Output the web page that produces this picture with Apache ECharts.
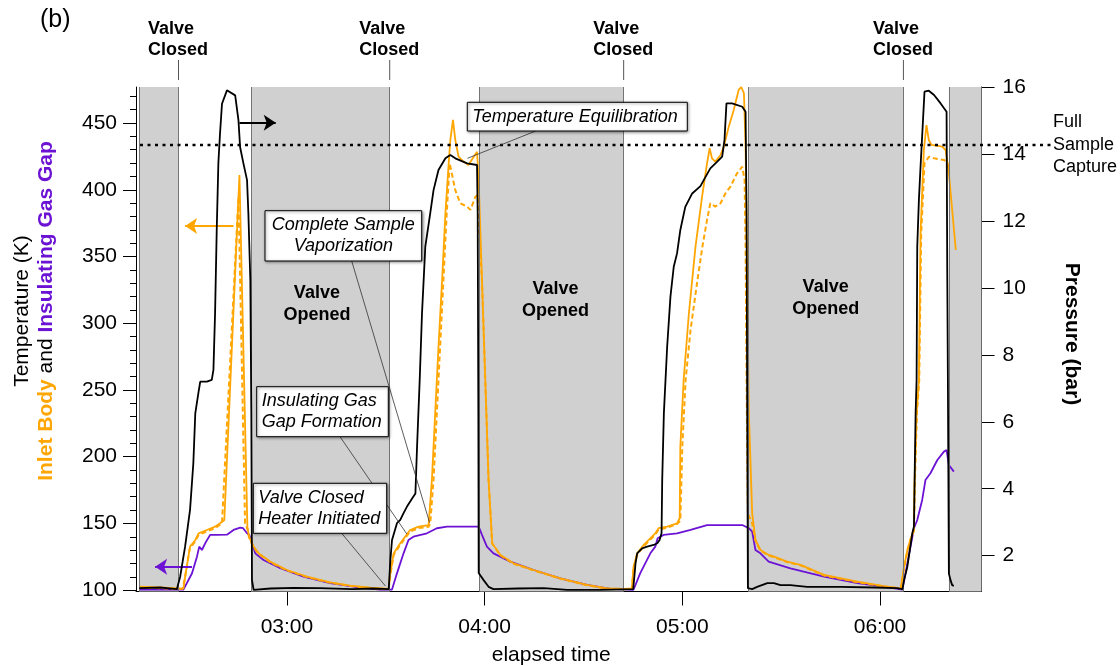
<!DOCTYPE html>
<html><head><meta charset="utf-8">
<script src="https://cdn.jsdelivr.net/npm/echarts@6/dist/echarts.min.js"></script>
<style>html,body{margin:0;padding:0;background:#fff}#c{width:1120px;height:666px}</style>
</head><body><div id="c"></div>
<script>
const FONT = '"Liberation Sans", Arial, Helvetica, sans-serif';
const ORANGE = '#ffa602';
const PURPLE = '#6c12d4';

// elapsed time in seconds (03:00 = 180 s)
const xTickValues = [180, 240, 300, 360];
const xTickLabels = ['03:00', '04:00', '05:00', '06:00'];
const tempTicks = [100, 150, 200, 250, 300, 350, 400, 450];
const tempMinorTicks = [110,120,130,140,160,170,180,190,210,220,230,240,260,270,280,290,310,320,330,340,360,370,380,390,410,420,430,440,460,470];
const pressureTicks = [2, 4, 6, 8, 10, 12, 14, 16];

// valve-open (shaded) periods and valve-closing times (s)
const valveOpenPeriods = [[135.1,147.1],[169.1,211.2],[238.5,282.2],[320.0,367.1],[380.9,390.8]];
const valveClosedTimes = [147.1, 211.2, 282.2, 367.1];
const valveOpenedLabelTimes = [189.1, 261.5, 343.5];
const fullSampleCapture = 433.6; // K (left-axis level of dotted line)

// Pressure (bar), right axis
const pressure = [
[135.2,1.03],[141.5,1.05],[146.6,1.0],[147.6,1.37],[149.1,2.27],[150.6,3.37],[151.6,4.76],[152.2,6.26],[153.2,6.9],[153.7,7.2],[155.7,7.2],[157.2,7.25],[157.7,7.55],[158.2,9.25],[158.7,11.73],[159.2,13.73],[159.7,14.61],[160.3,15.5],[161.8,15.9],[164.3,15.75],[165.3,15.0],[165.8,14.2],[166.8,13.72],[167.9,13.22],[168.3,12.24],[168.9,10.23],[169.2,6.26],[169.4,1.27],[169.9,0.98],[175,1.02],[182,1.04],[190,1.03],[200,1.0],[206,1.02],[210.9,1.0],
[211.4,1.87],[211.9,2.47],[213.4,2.97],[214.4,3.07],[215.4,3.27],[216.4,3.46],[218.0,3.71],[219.0,3.86],[219.5,5.26],[220.3,7.25],[221.0,9.24],[222.0,11.23],[223.5,12.23],[224.5,12.92],[226.0,13.52],[228.1,13.87],[229.6,13.97],[231.1,13.87],[234.7,13.72],[237.7,13.67],[237.9,12.24],[238.1,6.26],[238.2,1.48],[239.7,1.27],[241.2,1.07],[242.7,1.0],[250,1.02],[258,1.03],[265,0.98],[275,0.98],[285.1,1.0],
[285.8,1.77],[286.3,2.07],[287.8,2.22],[289.3,2.27],[291.3,2.32],[292.4,2.37],[293.1,2.47],[293.7,2.67],[293.9,4.26],[294.4,6.25],[295.4,8.24],[296.4,9.74],[297.4,10.63],[298.4,11.03],[299.4,11.73],[300.9,12.42],[303.0,12.82],[305.5,13.04],[306.5,13.22],[308.5,13.57],[310.6,13.77],[312.1,13.92],[312.8,14.42],[313.4,15.51],[315.1,15.51],[318.2,15.41],[319.2,15.26],[319.5,12.24],[319.7,6.25],[319.9,1.03],[321.2,1.0],[322.7,1.07],[325.8,1.18],[327.8,1.18],[329.8,1.12],[332.8,1.12],[337.9,1.07],[348.0,1.07],[358.1,1.05],[365.2,1.03],[366.8,1.0],
[367.3,1.27],[368.3,1.67],[369.8,2.67],[370.3,2.87],[370.5,4.26],[370.8,6.25],[371.1,7.25],[371.3,11.23],[371.8,12.62],[372.3,13.62],[373.1,15.11],[373.5,15.86],[374.8,15.89],[376.4,15.76],[378.4,15.51],[380.2,15.26],[380.4,10.63],[380.6,7.25],[380.9,1.47],[381.4,1.27],[381.9,1.12],[382.4,1.1]
];

// Inlet body temperature (K), solid thermocouple
const inletSolid = [
[135.2,102.6],[141.5,102.0],[147.1,101.4],[148.6,101.4],[149.6,117.6],[150.6,132.6],[152.2,137.6],[153.2,142.6],[155.7,145.1],[158.2,147.6],[159.7,150.1],[161.0,152.6],[165.6,411.1],[168.0,147.6],[168.3,146.4],[168.5,140.1],[169.9,132.6],[171.4,127.6],[174.9,121.4],[180.0,115.1],[186.1,110.1],[193.1,105.9],[199.2,103.4],[205.3,101.8],[210.9,100.9],
[211.4,112.6],[212.4,127.6],[214.4,135.1],[217.4,145.1],[220.0,147.6],[223.0,148.8],[223.5,150.1],[224.0,182.6],[225.0,232.5],[226.0,282.4],[227.1,332.4],[228.1,382.4],[229.1,419.8],[229.6,437.3],[230.4,452.3],[231.1,437.3],[232.1,424.8],[233.6,421.1],[235.1,418.6],[236.7,424.8],[237.7,428.5],[238.2,407.3],[239.2,332.4],[240.2,257.5],[241.2,182.6],[242.3,135.1],[244.8,126.4],[248.8,120.1],[254.9,115.1],[263.0,108.9],[271.1,103.9],[277.2,101.4],[282.2,100.9],[284.7,101.4],
[285.2,117.6],[286.3,127.6],[288.3,133.9],[291.8,142.6],[292.8,146.4],[295.4,147.6],[298.4,150.1],[299.2,153.9],[299.4,207.5],[300.4,257.5],[302.0,307.5],[304.0,357.4],[306.0,394.8],[307.5,419.8],[308.3,431.1],[309.0,423.6],[310.0,421.1],[311.6,426.1],[312.6,432.3],[314.1,447.3],[315.6,459.8],[317.1,474.8],[317.9,477],[318.7,472.3],[319.2,432.3],[319.7,332.4],[320.2,232.5],[321.2,157.6],[322.2,137.6],[323.7,130.1],[326.2,126.4],[327.8,125.1],[331.8,121.4],[335.9,118.9],[343.0,111.4],[353.1,106.4],[361.2,103.1],[366.3,101.4],[366.8,100.7],
[367.3,117.6],[368.3,130.1],[369.3,138.9],[370.3,145.1],[370.5,182.6],[371.1,232.5],[371.8,257.5],[372.3,367.4],[373.3,429.8],[374.1,448.5],[374.8,437.3],[375.6,433.6],[378.9,432.3],[379.9,429.8],[380.9,412.3],[383.0,354.9]
];

// Inlet body temperature (K), dashed thermocouple
const inletDashed = [
[135.2,101.8],[141.5,101.5],[147.1,100.8],[148.4,101.0],[149.5,116],[150.5,131],[152.2,136.5],[153.2,141.5],[155.7,144],[158.2,146.5],[160.3,150.1],[165.3,394.8],[167.3,150.1],[168.0,146],[168.5,139.5],[169.9,132],[171.4,127.2],[174.9,121],[180.0,114.8],[186.1,109.8],[193.1,105.6],[199.2,103.2],[205.3,101.6],[210.9,100.7],
[211.4,111.5],[212.4,126.5],[214.4,134],[217.4,144],[220.0,146.5],[223.0,147.5],[223.5,150],[224.5,182.6],[225.5,232.7],[226.5,282.4],[227.5,332.4],[228.5,382.4],[229.4,419.8],[231.1,399.7],[232.6,389.9],[234.7,387.4],[235.7,384.9],[237.2,394.8],[237.9,396.1],[238.3,370],[239.2,332.4],[240.2,257.5],[241.2,182.6],[242.3,135],[244.8,126],[248.8,119.8],[254.9,114.8],[263.0,108.6],[271.1,103.6],[277.2,101.2],[282.2,100.7],[284.7,101.2],
[285.2,116.5],[286.3,126.5],[288.3,133],[291.8,141.5],[292.8,145.5],[295.4,146.8],[298.4,149.5],[299.4,152],[300.0,207.5],[301.0,257.5],[302.5,295],[304.6,332.4],[306.1,357.4],[307.5,377.4],[308.5,389.9],[310.0,387.4],[311.6,389.9],[313.1,397.4],[314.6,402.3],[316.6,412.3],[318.2,417.3],[318.9,407.3],[319.2,357.4],[319.5,257.5],[319.9,157.6],[321.2,150],[322.2,137],[323.7,129.6],[326.2,126],[327.8,124.7],[331.8,121],[335.9,118.6],[343.0,111],[353.1,106],[361.2,102.8],[366.3,101.2],[366.8,100.5],
[367.3,116.5],[368.3,129],[369.3,138],[370.3,144.5],[370.6,182.6],[371.2,232.5],[371.9,257.5],[372.5,367.4],[373.5,420],[374.9,424.8],[376.4,423.6],[379.5,422.3],[380.5,419.8],[381.0,412.3]
];

// Insulating gas gap temperature (K)
const gasGap = [
[135.2,100.5],[148.6,100.4],[149.1,100.9],[151.2,112.7],[152.7,125.1],[153.4,132.6],[154.2,130.1],[155.2,135.1],[156.7,141.4],[158.7,141.4],[161.8,141.6],[163.8,145.1],[165.8,146.8],[166.7,146.4],[167.9,142.6],[168.6,141.4],[169.4,135.1],[170.4,127.6],[172.9,122.6],[178.0,116.4],[185.0,110.1],[193.1,105.2],[201.3,102.2],[208.3,100.4],[211.9,100.5],
[213.4,112.6],[215.4,127.6],[216.9,137.6],[217.4,138.9],[218.4,140.1],[222.5,142.6],[225.5,146.4],[228.6,147.6],[232.6,147.6],[238.2,147.6],[239.2,141.4],[240.7,132.6],[242.7,127.6],[247.8,121.4],[254.9,115.1],[263.0,108.9],[271.1,103.9],[278.2,101.0],[285.2,100.3],
[287.2,112.6],[290.3,127.6],[291.8,132.6],[292.5,138.9],[294.3,141.4],[298.4,142.6],[302.5,145.1],[307.5,148.8],[313.6,148.8],[318.2,148.8],[320.2,146.4],[321.2,143.8],[322.2,130.1],[323.7,127.6],[326.2,121.4],[332.8,116.4],[343.0,110.1],[353.1,105.2],[361.2,102.6],[366.8,100.4],
[370.3,146.4],[371.3,152.6],[372.8,167.6],[373.8,182.6],[375.3,187.6],[377.4,197.5],[379.4,203.8],[380.2,205],[380.9,193.8],[382.4,188.8]
];

// axis-direction arrows [start, end] in data units
const pressureArrow = [[165.6,14.93],[176.6,14.93]];
const inletArrow = [[163.8,372.9],[149.1,372.9]];
const gasGapArrow = [[151.2,117.6],[140.0,117.6]];

// annotation pointer targets
const annotTargets = {
  equil: [234.8, 13.87],   // pressure axis
  vapor: [223.3, 150.6],
  gap:   [216.4, 142.1],
  heater:[209.9, 103.1]
};

const chart = echarts.init(document.getElementById('c'), null, {renderer: 'canvas'});

function arrowMark(pair, color) {
  return {
    silent: true, animation: false,
    symbol: ['none', 'arrow'], symbolSize: 12,
    label: {show: false},
    lineStyle: {color: color, width: 2, type: 'solid'},
    itemStyle: {color: color},
    emphasis: {disabled: true},
    data: [[{coord: pair[0], symbol: 'none'}, {coord: pair[1], symbol: 'arrow', symbolSize: 12}]]
  };
}

const edges = [];
valveOpenPeriods.forEach(p => { edges.push(p[0]); if (p[1] < 390) edges.push(p[1]); });

const option = {
  animation: false,
  backgroundColor: '#fff',
  grid: {left: 136, right: 138.5, top: 87, bottom: 74.5, containLabel: false, outerBoundsMode: 'none'},
  xAxis: {
    type: 'value', min: 134.2, max: 390.8,
    axisLine: {show: true, onZero: false, lineStyle: {color: '#000', width: 1}},
    axisTick: {show: true, customValues: xTickValues, length: 14, lineStyle: {color: '#000', width: 1}},
    axisLabel: {customValues: xTickValues, formatter: v => xTickLabels[xTickValues.indexOf(v)] || '', fontSize: 21, fontFamily: FONT, color: '#000', margin: 25},
    splitLine: {show: false},
    name: 'elapsed time', nameLocation: 'middle', nameGap: 53,
    nameTextStyle: {fontSize: 21, fontFamily: FONT, color: '#000', padding: [0, 15, 0, 0]}
  },
  yAxis: [
    {
      type: 'value', min: 99, max: 477, position: 'left',
      axisLine: {show: true, lineStyle: {color: '#000', width: 1}},
      axisTick: {show: true, customValues: tempTicks, length: 13, lineStyle: {color: '#000', width: 1}},
      axisLabel: {customValues: tempTicks, fontSize: 21, fontFamily: FONT, color: '#000', margin: 19},
      splitLine: {show: false}
    },
    {
      type: 'value', min: 0.93, max: 16, position: 'right',
      axisLine: {show: true, lineStyle: {color: '#000', width: 1}},
      axisTick: {show: true, customValues: pressureTicks, length: 13, lineStyle: {color: '#000', width: 1}},
      axisLabel: {customValues: pressureTicks, fontSize: 21, fontFamily: FONT, color: '#000', margin: 21},
      splitLine: {show: false}
    },
    {
      type: 'value', min: 99, max: 477, position: 'left',
      axisLine: {show: false},
      axisTick: {show: true, customValues: tempMinorTicks, length: 6, lineStyle: {color: '#000', width: 1}},
      axisLabel: {show: false},
      splitLine: {show: false}
    }
  ],
  series: [
    {
      type: 'line', data: [], xAxisIndex: 0, yAxisIndex: 0, z: 1, silent: true,
      markArea: {silent: true, animation: false, itemStyle: {color: '#d0d0d0'},
        data: valveOpenPeriods.map(p => [{xAxis: p[0]}, {xAxis: p[1]}])},
      markLine: {silent: true, animation: false, symbol: 'none', label: {show: false},
        lineStyle: {color: '#747474', width: 1, type: 'solid'}, emphasis: {disabled: true},
        data: edges.map(v => ({xAxis: v}))}
    },
    {
      name: 'Insulating Gas Gap', type: 'line', data: gasGap, yAxisIndex: 0, z: 2,
      showSymbol: false, symbol: 'none', lineStyle: {color: PURPLE, width: 1.8}, itemStyle: {color: PURPLE},
      markLine: arrowMark(gasGapArrow, PURPLE)
    },
    {
      name: 'Inlet Body (2)', type: 'line', data: inletDashed, yAxisIndex: 0, z: 3,
      showSymbol: false, symbol: 'none', lineStyle: {color: ORANGE, width: 2, type: [5, 3]}, itemStyle: {color: ORANGE}
    },
    {
      name: 'Inlet Body', type: 'line', data: inletSolid, yAxisIndex: 0, z: 4,
      showSymbol: false, symbol: 'none', lineStyle: {color: ORANGE, width: 1.8}, itemStyle: {color: ORANGE},
      markLine: arrowMark(inletArrow, ORANGE)
    },
    {
      name: 'Pressure', type: 'line', data: pressure, yAxisIndex: 1, z: 5,
      showSymbol: false, symbol: 'none', lineStyle: {color: '#000', width: 1.8}, itemStyle: {color: '#000'},
      markLine: arrowMark(pressureArrow, '#000')
    }
  ]
};
chart.setOption(option);

// ---------- annotations (placed via the chart's own scales) ----------
const T = (s, v) => chart.convertToPixel({seriesIndex: 1}, [s, v]);
const P = (s, v) => chart.convertToPixel({seriesIndex: 4}, [s, v]);
const X = s => chart.convertToPixel({xAxisIndex: 0}, s);
const g = [];

g.push({type: 'text', x: 40, y: 8, style: {text: '(b)', font: '25px ' + FONT, fill: '#000'}});

valveClosedTimes.forEach(t => {
  const x = X(t);
  g.push({type: 'line', shape: {x1: x, y1: 60, x2: x, y2: 80}, style: {stroke: '#555', lineWidth: 1}});
  g.push({type: 'text', x: x - 30.5, y: 19, style: {text: 'Valve\nClosed', font: 'bold 18px ' + FONT, fill: '#000', lineHeight: 21, align: 'left', verticalAlign: 'top'}});
});

const openedY = [314.4, 317.4, 318.6];
valveOpenedLabelTimes.forEach((t, i) => {
  const p = T(t, openedY[i]);
  g.push({type: 'text', x: p[0], y: p[1], style: {text: 'Valve\nOpened', font: 'bold 18px ' + FONT, fill: '#000', lineHeight: 22, align: 'center', verticalAlign: 'middle'}});
});

const yFS = T(200, fullSampleCapture)[1];
g.push({type: 'line', shape: {x1: 140, y1: yFS, x2: 1051, y2: yFS}, style: {stroke: '#000', lineWidth: 2.5, lineDash: [3, 4.5]}});
g.push({type: 'text', x: 1053, y: yFS, style: {text: 'Full\nSample\nCapture', font: '18px ' + FONT, fill: '#000', lineHeight: 22.5, align: 'left', verticalAlign: 'middle'}});

function box(x, y, w, h, text, align, start, end) {
  g.push({type: 'line', shape: {x1: start[0], y1: start[1], x2: end[0], y2: end[1]}, style: {stroke: '#333', lineWidth: 0.8}});
  g.push({type: 'rect', shape: {x: x, y: y, width: w, height: h},
    style: {fill: '#fff', stroke: '#000', lineWidth: 1, shadowBlur: 3, shadowColor: 'rgba(0,0,0,0.45)', shadowOffsetX: 1, shadowOffsetY: 1}});
  g.push({type: 'text', x: align === 'center' ? x + w / 2 : x + 5, y: y + h / 2,
    style: {text: text, font: 'italic 18px ' + FONT, fill: '#000', lineHeight: 21, align: align, verticalAlign: 'middle'}});
}
box(467.3, 102.3, 220, 28.7, 'Temperature Equilibration', 'left', [535.7, 131], P(...annotTargets.equil));
box(265, 210.7, 156.7, 50.3, 'Complete Sample\nVaporization', 'center', [351.7, 261], T(...annotTargets.vapor));
box(256.7, 386.7, 131.6, 50, 'Insulating Gas\nGap Formation', 'left', [340, 436.7], T(...annotTargets.gap));
box(253.3, 483.3, 133.4, 50, 'Valve Closed\nHeater Initiated', 'left', [341.7, 533.3], T(...annotTargets.heater));

g.push({type: 'text', x: 22, y: 311, rotation: Math.PI / 2,
  style: {text: 'Temperature (K)', font: '21px ' + FONT, fill: '#000', align: 'center', verticalAlign: 'middle'}});
g.push({type: 'text', x: 46, y: 311, rotation: Math.PI / 2,
  style: {text: '{o|Inlet Body}{k| and }{p|Insulating Gas Gap}', align: 'center', verticalAlign: 'middle',
    font: '21px ' + FONT,
    rich: {
      o: {fill: ORANGE, fontWeight: 'bold', fontSize: 21, fontFamily: FONT},
      k: {fill: '#000', fontSize: 21, fontFamily: FONT},
      p: {fill: PURPLE, fontWeight: 'bold', fontSize: 21, fontFamily: FONT}
    }}});
g.push({type: 'text', x: 1072, y: 334, rotation: -Math.PI / 2,
  style: {text: 'Pressure (bar)', font: 'bold 21px ' + FONT, fill: '#000', align: 'center', verticalAlign: 'middle'}});

g.forEach(e => { e.z = 100; });
chart.setOption({graphic: g});
</script>
</body></html>
